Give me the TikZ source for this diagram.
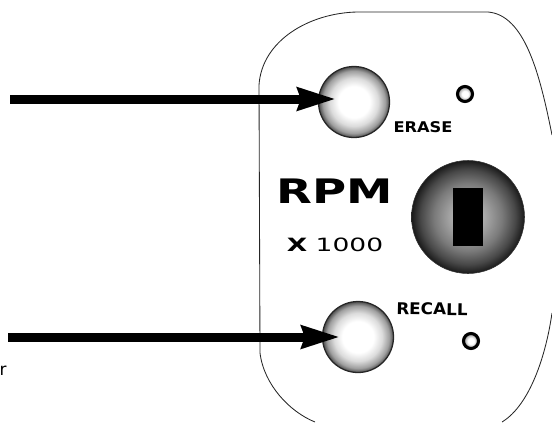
\documentclass[tikz,border=0pt]{standalone}
\usepackage{fontspec}
\setmainfont{DejaVu Sans}
\usetikzlibrary{arrows.meta}
\pgfdeclareradialshading{knobshade}{\pgfpoint{0bp}{0bp}}{%
    color(0bp)=(black!28); color(7bp)=(black!33); color(15bp)=(black!52);
    color(21bp)=(black!72); color(25bp)=(black!90); color(50bp)=(black!90)}
\pgfdeclareradialshading{ballshade}{\pgfpoint{0bp}{0bp}}{%
    color(0bp)=(white); color(11bp)=(white); color(17bp)=(black!14);
    color(22bp)=(black!38); color(25bp)=(black!70); color(50bp)=(black!70)}
\pgfdeclareradialshading{ledshade}{\pgfpoint{0bp}{0bp}}{%
    color(0bp)=(white); color(10bp)=(white); color(25bp)=(black!45); color(50bp)=(black!45)}
\tikzset{
    panel/.style = {draw=black!85, line width=0.6pt},
    bouton/.style = {circle, draw=black!85, line width=0.9pt, inner sep=0pt, minimum size=71*0.025cm, shading=ballshade},
    voyant/.style = {circle, draw=black, line width=2.2pt, inner sep=0pt, minimum size=15*0.025cm, shading=ledshade},
    molette/.style = {circle, draw=black!80, inner sep=0pt, minimum size=113*0.025cm, shading=knobshade},
    fente/.style = {fill=black, inner sep=0pt, minimum width=30*0.025cm, minimum height=58*0.025cm},
    fleche/.style = {line width=9*0.025cm, -{Stealth[length=38*0.025cm, width=22*0.025cm, inset=3*0.025cm]}}
}
\begin{document}
\begin{tikzpicture}[x=0.025cm, y=-0.025cm]
    \useasboundingbox (0,0) rectangle (552,423);
    % outline of the panel, open on the right and at the bottom
    \draw[panel] (552,135) .. controls (540,75) and (525,15) .. (488,12) -- (357,12)
        .. controls (310,13) and (262,40) .. (259,85) -- (260,353)
        .. controls (264,385) and (290,412) .. (315,422);
    \draw[panel] (552,313) .. controls (546,355) and (530,405) .. (502,422);
    \node (erase) [bouton] at (354,102) {};
    \node (recall) [bouton] at (358,337) {};
    \node (ledA) [voyant] at (465,94) {};
    \node (ledB) [voyant] at (471,341) {};
    \node (knob) [molette] at (468,217) {};
    \node (slot) [fente] at (468,217) {};
    \node (eraseL) [font=\bfseries\fontsize{10.5}{12}\selectfont, inner sep=0pt, xscale=1.1] at (423,127) {ERASE};
    \node (recallL) [font=\bfseries\fontsize{11.5}{13}\selectfont, inner sep=0pt, xscale=1.04, rotate=-1] at (432,309) {RECALL};
    \node (rpm) [font=\bfseries\fontsize{24}{28}\selectfont, inner sep=0pt, xscale=1.38] at (335,191) {RPM};
    \node (mult) [font=\fontsize{13}{15}\selectfont, inner sep=0pt, xscale=1.45] at (335,245) {\textbf{X} 1000};
    \node (cut) [font=\fontsize{12}{13}\selectfont, inner sep=0pt] at (3,371) {r};
    \coordinate (startA) at (10,99);
    \coordinate (tipA) at (336,99);
    \coordinate (startB) at (8,337);
    \coordinate (tipB) at (340,337);
    \draw[fleche] (startA) -- (tipA);
    \draw[fleche] (startB) -- (tipB);
\end{tikzpicture}
\end{document}
